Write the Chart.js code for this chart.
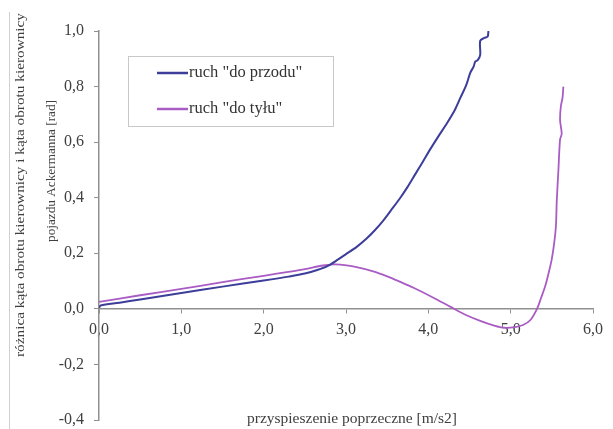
<!DOCTYPE html>
<html>
<head>
<meta charset="utf-8">
<script src="https://cdn.jsdelivr.net/npm/chart.js@4"></script>
<style>
    body { margin: 0; background: #fff; }
</style>
</head>
<body>
<canvas id="chart" width="613" height="429"></canvas>
<script>
// ruch "do przodu"
const forwardX = [0.00, 0.02, 0.25, 0.50, 1.00, 1.50, 2.00, 2.30, 2.50, 2.65, 2.78, 2.90, 3.00, 3.13, 3.25, 3.35, 3.45, 3.55, 3.66, 3.75, 3.84, 3.93, 4.02, 4.12, 4.23, 4.32, 4.39, 4.46, 4.51, 4.55, 4.57, 4.60, 4.63, 4.63, 4.68, 4.72, 4.73];
const forwardY = [0.004, 0.012, 0.022, 0.034, 0.057, 0.080, 0.102, 0.116, 0.127, 0.140, 0.155, 0.177, 0.197, 0.223, 0.253, 0.283, 0.317, 0.356, 0.400, 0.440, 0.484, 0.528, 0.573, 0.620, 0.670, 0.715, 0.760, 0.805, 0.850, 0.872, 0.890, 0.895, 0.914, 0.965, 0.975, 0.980, 1.000];
// ruch "do tyłu"
const backwardX = [0.00, 0.50, 1.00, 1.50, 2.00, 2.32, 2.50, 2.72, 2.85, 2.93, 3.10, 3.33, 3.50, 3.66, 3.82, 4.05, 4.27, 4.45, 4.63, 4.80, 4.92, 5.05, 5.15, 5.24, 5.32, 5.37, 5.42, 5.47, 5.50, 5.53, 5.55, 5.56, 5.58, 5.60, 5.62, 5.60, 5.61, 5.63, 5.64];
const backwardY = [0.025, 0.049, 0.072, 0.096, 0.119, 0.134, 0.143, 0.156, 0.160, 0.159, 0.152, 0.135, 0.117, 0.097, 0.076, 0.042, 0.007, -0.021, -0.043, -0.060, -0.068, -0.066, -0.058, -0.040, 0.000, 0.040, 0.082, 0.140, 0.180, 0.240, 0.300, 0.390, 0.500, 0.610, 0.630, 0.680, 0.730, 0.760, 0.800];

const seriesNames = ['ruch "do przodu"', 'ruch "do tyłu"'];
const seriesColors = ['#3d3d9a', '#a95cc4'];
const xTickValues = [0, 1, 2, 3, 4, 5, 6];
const yTickValues = [-0.4, -0.2, 0, 0.2, 0.4, 0.6, 0.8, 1.0];
const xTitle = 'przyspieszenie poprzeczne [m/s2]';
const yTitle = ['różnica kąta obrotu kierownicy i kąta obrotu kierownicy', 'pojazdu Ackermanna [rad]'];

const serif = '"Liberation Serif", "DejaVu Serif", serif';

function toPoints(xs, ys) {
    return xs.map((x, i) => ({ x: x, y: ys[i] }));
}

// 小数点はカンマで表示
function fmt(v) {
    return Number(v).toFixed(1).replace('.', ',');
}

// 横に引き伸ばしてテキストを描く
function stretchText(ctx, text, cx, cy, width) {
    const w = ctx.measureText(text).width;
    ctx.save();
    ctx.translate(cx, cy);
    ctx.scale(width / w, 1);
    ctx.fillText(text, 0, 0);
    ctx.restore();
}

// 凡例・軸タイトル・枠線を描く
const extrasPlugin = {
    id: 'extras',
    afterDraw(chart) {
        const ctx = chart.ctx;
        ctx.save();

        // 左の枠線
        ctx.strokeStyle = '#d0d0d0';
        ctx.lineWidth = 1;
        ctx.beginPath();
        ctx.moveTo(9.5, 12);
        ctx.lineTo(9.5, 429);
        ctx.stroke();

        // y軸タイトル
        ctx.fillStyle = '#404040';
        ctx.font = '13.5px ' + serif;
        ctx.textAlign = 'center';
        ctx.textBaseline = 'middle';
        ctx.translate(20, 185);
        ctx.rotate(-Math.PI / 2);
        stretchText(ctx, yTitle[0], 0, 0, 344);
        stretchText(ctx, yTitle[1], 14, 31, 142);
        ctx.setTransform(1, 0, 0, 1, 0, 0);

        // x軸タイトル
        ctx.font = '15.5px ' + serif;
        ctx.fillText(xTitle, 352, 419);

        // 凡例
        ctx.strokeStyle = '#c8c8c8';
        ctx.fillStyle = '#fff';
        ctx.fillRect(128.5, 56.5, 205, 70);
        ctx.strokeRect(128.5, 56.5, 205, 70);
        const rows = [73, 109];
        ctx.textAlign = 'left';
        ctx.font = '16.5px ' + serif;
        rows.forEach((y, i) => {
            ctx.strokeStyle = seriesColors[i];
            ctx.lineWidth = 2.5;
            ctx.beginPath();
            ctx.moveTo(157, y);
            ctx.lineTo(188, y);
            ctx.stroke();
            ctx.fillStyle = '#333';
            ctx.fillText(seriesNames[i], 189, y);
        });
        ctx.restore();
    }
};

const ctx = document.getElementById('chart').getContext('2d');
new Chart(ctx, {
    type: 'scatter',
    data: {
        datasets: [
            {
                label: seriesNames[0],
                data: toPoints(forwardX, forwardY),
                borderColor: seriesColors[0],
                backgroundColor: seriesColors[0],
                borderWidth: 2,
                showLine: true,
                pointRadius: 0,
                tension: 0.3
            },
            {
                label: seriesNames[1],
                data: toPoints(backwardX, backwardY),
                borderColor: seriesColors[1],
                backgroundColor: seriesColors[1],
                borderWidth: 1.8,
                showLine: true,
                pointRadius: 0,
                tension: 0.3
            }
        ]
    },
    options: {
        responsive: false,
        animation: false,
        layout: { padding: { top: 31, right: 20, bottom: 9, left: 0 } },
        plugins: {
            legend: { display: false },
            tooltip: { enabled: false }
        },
        scales: {
            x: {
                type: 'linear',
                min: 0,
                max: 6,
                position: { y: 0 },
                afterBuildTicks: axis => { axis.ticks = xTickValues.map(v => ({ value: v })); },
                ticks: {
                    callback: v => fmt(v),
                    color: '#404040',
                    font: { family: serif, size: 16 },
                    padding: 7,
                    maxRotation: 0
                },
                grid: { display: true, drawOnChartArea: false, drawTicks: true, tickLength: 4, color: '#909090' },
                border: { color: '#909090', width: 1.5 }
            },
            y: {
                type: 'linear',
                min: -0.4,
                max: 1.0,
                afterBuildTicks: axis => { axis.ticks = yTickValues.map(v => ({ value: v })); },
                afterFit: axis => {
                    axis.width = 99;
                    axis.paddingTop = 0;
                    axis.paddingBottom = 0;
                },
                ticks: {
                    callback: v => fmt(v),
                    color: '#404040',
                    font: { family: serif, size: 16 },
                    padding: 10
                },
                grid: { display: true, drawOnChartArea: false, drawTicks: true, tickLength: 5, color: '#909090' },
                border: { color: '#909090', width: 1.5 }
            }
        }
    },
    plugins: [extrasPlugin]
});
</script>
</body>
</html>
